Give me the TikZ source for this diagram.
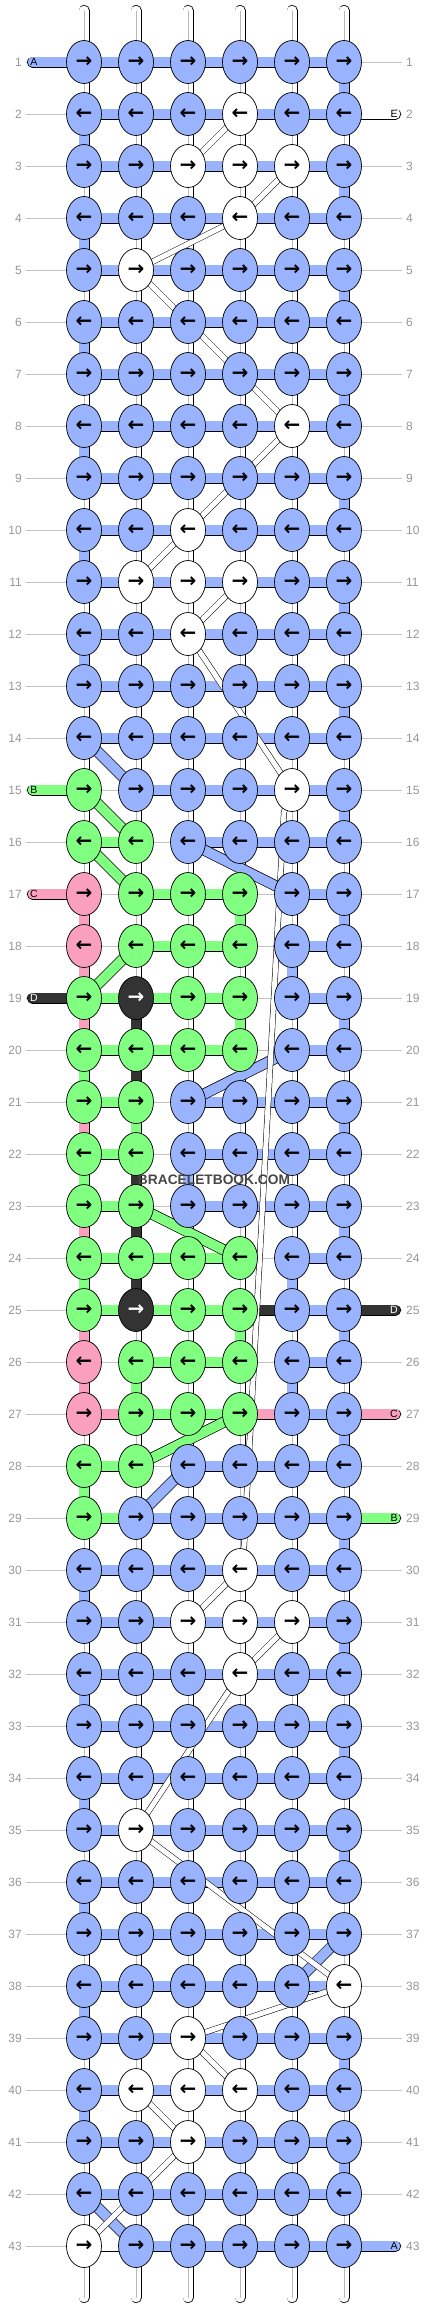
\documentclass[tikz,border=0pt]{standalone}
\usepackage{fontspec}
\setmainfont{Liberation Sans}
\newfontfamily\arrowfont{DejaVu Sans}
\usetikzlibrary{shapes.geometric}

% Thread colours
\definecolor{cb}{RGB}{153,179,255}
\definecolor{cg}{RGB}{128,255,128}
\definecolor{cp}{RGB}{250,160,190}
\definecolor{ck}{RGB}{51,51,51}
\definecolor{cw}{RGB}{255,255,255}
\definecolor{rowgray}{RGB}{195,195,195}
\definecolor{labelgray}{RGB}{150,150,150}
\definecolor{warpgray}{RGB}{185,185,185}
\definecolor{wmgray}{RGB}{70,70,70}

\pgfdeclarelayer{guides}
\pgfdeclarelayer{strands}
\pgfdeclarelayer{floats}
\pgfsetlayers{guides,strands,floats,main}

\tikzset{
    knot/.style={ellipse, draw, line width=0.7pt, minimum width=35pt, minimum height=43pt,
        inner sep=0pt, font=\arrowfont\bfseries\fontsize{20}{20}\selectfont},
    knot b/.style={fill=cb},
    knot g/.style={fill=cg},
    knot p/.style={fill=cp},
    knot w/.style={fill=cw},
    knot k/.style={fill=ck, text=white},
    seg/.style={line width=0.7pt, double=#1, double distance=9.6pt},
    seg b/.style={seg=cb},
    seg g/.style={seg=cg},
    seg p/.style={seg=cp},
    seg k/.style={seg=ck},
    seg w/.style={seg=cw},
    seg n/.style={draw=none},
    mid w/.style={draw=warpgray, line width=0.7pt},
    mid b/.style={draw=none},
    mid g/.style={draw=none},
    mid p/.style={draw=none},
    mid k/.style={draw=none},
    float/.style={line width=0.5pt, double=white, double distance=5pt},
    tab/.style={seg=#1, line cap=round},
    tabtext/.style={font=\fontsize{10.5}{10.5}\selectfont, inner sep=0pt},
    rowlabel/.style={font=\fontsize{12}{12}\selectfont, text=labelgray, inner xsep=4pt, inner ysep=0pt},
    rowline/.style={draw=rowgray, line width=0.6pt},
}

\begin{document}
\begin{tikzpicture}[x=1pt, y=1pt]
    \useasboundingbox (0,0) rectangle (428,-2308);

    % Knot colours, one group per row (b blue, g green, p pink, k dark, w white)
    \foreach \knotrow [count=\ri] in {
        {b,b,b,b,b,b}, {b,b,b,w,b,b}, {b,b,w,w,w,b}, {b,b,b,w,b,b}, {b,w,b,b,b,b},
        {b,b,b,b,b,b}, {b,b,b,b,b,b}, {b,b,b,b,w,b}, {b,b,b,b,b,b}, {b,b,w,b,b,b},
        {b,w,w,w,b,b}, {b,b,w,b,b,b}, {b,b,b,b,b,b}, {b,b,b,b,b,b}, {g,b,b,b,w,b},
        {g,g,b,b,b,b}, {p,g,g,g,b,b}, {p,g,g,g,b,b}, {g,k,g,g,b,b}, {g,g,g,g,b,b},
        {g,g,b,b,b,b}, {g,g,b,b,b,b}, {g,g,b,b,b,b}, {g,g,g,g,b,b}, {g,k,g,g,b,b},
        {p,g,g,g,b,b}, {p,g,g,g,b,b}, {g,g,b,b,b,b}, {g,b,b,b,b,b}, {b,b,b,w,b,b},
        {b,b,w,w,w,b}, {b,b,b,w,b,b}, {b,b,b,b,b,b}, {b,b,b,b,b,b}, {b,w,b,b,b,b},
        {b,b,b,b,b,b}, {b,b,b,b,b,b}, {b,b,b,b,b,w}, {b,b,w,b,b,b}, {b,w,w,w,b,b},
        {b,b,w,b,b,b}, {b,b,b,b,b,b}, {w,b,b,b,b,b}} {
        \pgfmathsetmacro\ypos{-(62+52*(\ri-1))}
        \foreach \col [count=\ci] in \knotrow {
            \node[knot, knot \col] (k\ri-\ci) at ({84+52*(\ci-1)}, \ypos)
                {\ifodd\ri\relax →\else ←\fi};
        }
    }

    % Row numbers
    \foreach \ri in {1,...,43} {
        \pgfmathsetmacro\ypos{-(62+52*(\ri-1))}
        \node[rowlabel, anchor=east] (lL\ri) at (26, \ypos) {\ri};
        \node[rowlabel, anchor=west] (lR\ri) at (402, \ypos) {\ri};
    }

    \begin{pgfonlayer}{guides}
        \foreach \ri in {1,...,43} {
            \draw[rowline] (lL\ri.east) -- (lR\ri.west);
        }
    \end{pgfonlayer}

    \begin{pgfonlayer}{strands}
        % Horizontal pieces (n = nothing)
        \foreach \hrow [count=\ri] in {
            {b,b,b,b,b}, {b,b,b,b,b}, {b,b,b,b,b}, {b,b,b,b,b}, {b,b,b,b,b},
            {b,b,b,b,b}, {b,b,b,b,b}, {b,b,b,b,b}, {b,b,b,b,b}, {b,b,b,b,b},
            {b,b,b,b,b}, {b,b,b,b,b}, {b,b,b,b,b}, {b,b,b,b,b}, {n,b,b,b,b},
            {g,n,b,b,b}, {n,g,g,n,b}, {n,g,g,n,b}, {g,g,g,n,b}, {g,g,g,n,b},
            {g,n,b,b,b}, {g,n,b,b,b}, {g,n,b,b,b}, {g,g,g,n,b}, {g,g,g,k,b},
            {n,g,g,n,b}, {p,g,g,p,b}, {g,n,b,b,b}, {g,b,b,b,b}, {b,b,b,b,b},
            {b,b,b,b,b}, {b,b,b,b,b}, {b,b,b,b,b}, {b,b,b,b,b}, {b,b,b,b,b},
            {b,b,b,b,b}, {b,b,b,b,b}, {b,b,b,b,b}, {b,b,b,b,b}, {b,b,b,b,b},
            {b,b,b,b,b}, {b,b,b,b,b}, {w,b,b,b,b}} {
            \foreach \h [count=\ci] in \hrow {
                \pgfmathtruncatemacro\cj{\ci+1}
                \draw[seg \h] (k\ri-\ci.center) -- (k\ri-\cj.center);
            }
        }

        % Vertical pieces between row r and r+1
        \foreach \vrow [count=\ri] in {
            {w,w,w,w,w,b}, {b,w,w,w,w,w}, {w,w,w,w,w,b}, {b,w,w,w,w,w}, {w,w,w,w,w,b},
            {b,w,w,w,w,w}, {w,w,w,w,w,b}, {b,w,w,w,w,w}, {w,w,w,w,w,b}, {b,w,w,w,w,w},
            {w,w,w,w,w,b}, {b,w,w,w,w,w}, {w,w,w,w,w,b}, {w,w,w,w,w,w}, {w,w,w,w,w,b},
            {w,w,w,w,w,w}, {p,w,w,g,w,b}, {p,w,w,w,b,w}, {p,k,w,g,w,b}, {g,k,w,w,w,w},
            {p,g,w,w,w,b}, {g,k,b,w,w,w}, {p,k,w,w,w,b}, {g,k,w,w,b,w}, {p,w,w,g,w,b},
            {p,g,w,w,b,w}, {w,w,w,w,w,b}, {g,w,w,w,w,w}, {w,w,w,w,w,b}, {b,w,w,w,w,w},
            {w,w,w,w,w,b}, {b,w,w,w,w,w}, {w,w,w,w,w,b}, {b,w,w,w,w,w}, {w,w,w,w,w,b},
            {b,w,w,w,w,w}, {w,w,w,w,w,w}, {b,w,w,w,w,w}, {w,w,w,w,w,b}, {b,w,w,w,w,w},
            {w,w,w,w,w,b}, {w,w,w,w,w,w}} {
            \pgfmathtruncatemacro\rj{\ri+1}
            \foreach \v [count=\ci] in \vrow {
                \draw[seg \v] (k\ri-\ci.center) -- (k\rj-\ci.center);
                \draw[mid \v] (k\ri-\ci.center) -- (k\rj-\ci.center);
            }
        }

        % Warp ends at top and bottom
        \foreach \ci in {1,...,6} {
            \coordinate (top\ci) at ({84+52*(\ci-1)}, -10.5);
            \coordinate (bot\ci) at ({84+52*(\ci-1)}, -2297.5);
            \draw[tab=cw] (top\ci) -- (k1-\ci.center);
            \draw[mid w] (top\ci) -- (k1-\ci.center);
            \draw[tab=cw] (k43-\ci.center) -- (bot\ci);
            \draw[mid w] (k43-\ci.center) -- (bot\ci);
        }

        % Threads coming in and going out
        \foreach \lab/\ri/\col/\tc in {A/1/cb/black, B/15/cg/black, C/17/cp/black, D/19/ck/white} {
            \pgfmathsetmacro\ypos{-(62+52*(\ri-1))}
            \coordinate (in\lab) at (32.5, \ypos);
            \draw[tab=\col] (in\lab) -- (k\ri-1.center);
            \node[tabtext, text=\tc] (tin\lab) at (34, \ypos) {\lab};
        }
        \foreach \lab/\ri/\col/\tc in {E/2/cw/black, D/25/ck/white, C/27/cp/black, B/29/cg/black, A/43/cb/black} {
            \pgfmathsetmacro\ypos{-(62+52*(\ri-1))}
            \coordinate (out\lab) at (395.5, \ypos);
            \draw[tab=\col] (k\ri-6.center) -- (out\lab);
            \node[tabtext, text=\tc] (tout\lab) at (394, \ypos) {\lab};
        }

        % Diagonal turns of the coloured threads
        \foreach \a/\b/\col in {14-1/15-2/cb, 15-1/16-2/cg, 16-1/17-2/cg, 16-3/17-5/cb,
            18-2/19-1/cg, 20-5/21-3/cb, 23-2/24-4/cg, 27-4/28-2/cg, 28-3/29-2/cb,
            37-6/38-5/cb, 42-1/43-2/cb} {
            \draw[seg=\col] (k\a.center) -- (k\b.center);
        }
    \end{pgfonlayer}

    \begin{pgfonlayer}{floats}
        % White thread floating behind
        \foreach \a/\b in {2-4/3-3, 3-5/4-4, 4-4/5-2, 5-2/6-3, 6-3/7-4, 7-4/8-5, 8-5/9-4,
            9-4/10-3, 10-3/11-2, 11-4/12-3, 12-3/15-5, 30-4/31-3, 31-5/32-4, 32-4/35-2,
            35-2/38-6, 38-6/39-3, 39-3/40-4, 40-2/41-3, 41-3/42-2, 42-2/43-1} {
            \draw[float] (k\a.center) -- (k\b.center);
        }
        \coordinate (fl1) at (284, -812);
        \coordinate (fl2) at (244, -1546);
        \draw[float] (k15-5.center) -- (fl1) -- (fl2) -- (k30-4.center);
    \end{pgfonlayer}

    % Watermark
    \node[font=\bfseries\fontsize{13.75}{14}\selectfont, text=wmgray] (wm) at (214, -1180) {BRACELETBOOK.COM};

\end{tikzpicture}
\end{document}
